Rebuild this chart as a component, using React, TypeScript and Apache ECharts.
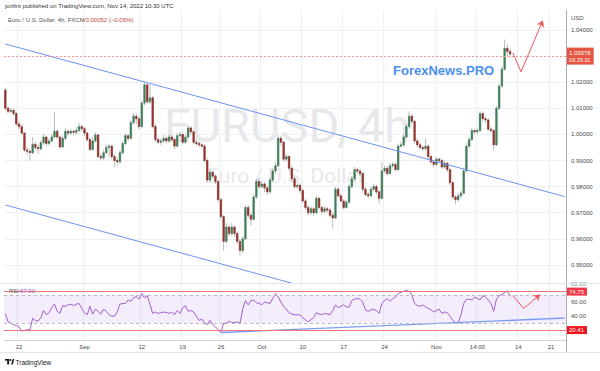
import React, { useEffect, useRef } from 'react';
import * as echarts from 'echarts';

// ---------- data (EUR/USD, 8h buckets) ----------
const opens = [1.0170, 1.0100, 1.0088, 1.0092, 1.0080, 1.0040, 1.0030, 1.0005, 0.9940, 0.9935,
  0.9930, 0.9962, 0.9950, 0.9945, 0.9968, 0.9990, 0.9965, 0.9975, 0.9990, 1.0012,
  0.9990, 0.9952, 0.9985, 1.0012, 1.0005, 1.0012, 1.0008, 1.0015, 1.0030, 1.0022,
  1.0005, 0.9980, 0.9942, 0.9975, 0.9998, 0.9915, 0.9910, 0.9930, 0.9950, 0.9955,
  0.9915, 0.9900, 0.9895, 0.9930, 0.9965, 0.9995, 0.9985, 1.0045, 1.0070, 1.0060,
  1.0030, 1.0120, 1.0190, 1.0125, 1.0140, 1.0030, 0.9980, 0.9970, 0.9975, 0.9985,
  0.9975, 0.9990, 0.9980, 0.9955, 0.9995, 1.0000, 0.9970, 0.9990, 1.0025, 1.0010,
  0.9970, 0.9965, 0.9960, 0.9955, 0.9900, 0.9825, 0.9855, 0.9840, 0.9820, 0.9750,
  0.9685, 0.9590, 0.9645, 0.9620, 0.9645, 0.9620, 0.9590, 0.9555, 0.9600, 0.9720,
  0.9690, 0.9675, 0.9760, 0.9820, 0.9800, 0.9810, 0.9795, 0.9780, 0.9825, 0.9860,
  0.9880, 0.9985, 0.9970, 0.9905, 0.9915, 0.9870, 0.9830, 0.9800, 0.9805, 0.9785,
  0.9745, 0.9720, 0.9700, 0.9715, 0.9700, 0.9755, 0.9720, 0.9705, 0.9715, 0.9710,
  0.9690, 0.9680, 0.9790, 0.9765, 0.9745, 0.9720, 0.9740, 0.9800, 0.9830, 0.9865,
  0.9860, 0.9850, 0.9790, 0.9770, 0.9765, 0.9790, 0.9800, 0.9780, 0.9755, 0.9860,
  0.9870, 0.9850, 0.9880, 0.9885, 0.9865, 0.9955, 0.9960, 0.9990, 1.0030, 1.0070,
  1.0050, 0.9975, 0.9960, 0.9950, 0.9945, 0.9955, 0.9915, 0.9895, 0.9885, 0.9905,
  0.9900, 0.9875, 0.9890, 0.9865, 0.9815, 0.9760, 0.9750, 0.9765, 0.9775, 0.9860,
  0.9955, 0.9980, 1.0015, 1.0010, 1.0015, 1.0080, 1.0060, 1.0055, 1.0020, 1.0015,
  0.9960, 1.0100, 1.0185, 1.0250, 1.0330, 1.0318];

const closes = [1.0100, 1.0088, 1.0092, 1.0080, 1.0040, 1.0030, 1.0005, 0.9940, 0.9935, 0.9930,
  0.9962, 0.9950, 0.9945, 0.9968, 0.9990, 0.9965, 0.9975, 0.9990, 1.0012, 0.9990,
  0.9952, 0.9985, 1.0012, 1.0005, 1.0012, 1.0008, 1.0015, 1.0030, 1.0022, 1.0005,
  0.9980, 0.9942, 0.9975, 0.9998, 0.9915, 0.9910, 0.9930, 0.9950, 0.9955, 0.9915,
  0.9900, 0.9895, 0.9930, 0.9965, 0.9995, 0.9985, 1.0045, 1.0070, 1.0060, 1.0030,
  1.0120, 1.0190, 1.0125, 1.0140, 1.0030, 0.9980, 0.9970, 0.9975, 0.9985, 0.9975,
  0.9990, 0.9980, 0.9955, 0.9995, 1.0000, 0.9970, 0.9990, 1.0025, 1.0010, 0.9970,
  0.9965, 0.9960, 0.9955, 0.9900, 0.9825, 0.9855, 0.9840, 0.9820, 0.9750, 0.9685,
  0.9590, 0.9645, 0.9620, 0.9645, 0.9620, 0.9590, 0.9555, 0.9600, 0.9720, 0.9690,
  0.9675, 0.9760, 0.9820, 0.9800, 0.9810, 0.9795, 0.9780, 0.9825, 0.9860, 0.9880,
  0.9985, 0.9970, 0.9905, 0.9915, 0.9870, 0.9830, 0.9800, 0.9805, 0.9785, 0.9745,
  0.9720, 0.9700, 0.9715, 0.9700, 0.9755, 0.9720, 0.9705, 0.9715, 0.9710, 0.9690,
  0.9680, 0.9790, 0.9765, 0.9745, 0.9720, 0.9740, 0.9800, 0.9830, 0.9865, 0.9860,
  0.9850, 0.9790, 0.9770, 0.9765, 0.9790, 0.9800, 0.9780, 0.9755, 0.9860, 0.9870,
  0.9850, 0.9880, 0.9885, 0.9865, 0.9955, 0.9960, 0.9990, 1.0030, 1.0070, 1.0050,
  0.9975, 0.9960, 0.9950, 0.9945, 0.9955, 0.9915, 0.9895, 0.9885, 0.9905, 0.9900,
  0.9875, 0.9890, 0.9865, 0.9815, 0.9760, 0.9750, 0.9765, 0.9775, 0.9860, 0.9955,
  0.9980, 1.0015, 1.0010, 1.0015, 1.0080, 1.0060, 1.0055, 1.0020, 1.0015, 0.9960,
  1.0100, 1.0185, 1.0250, 1.0330, 1.0318, 1.0308];

const lows = [1.0092, 1.0080, 1.0082, 1.0072, 1.0032, 1.0020, 0.9998, 0.9932, 0.9922, 0.9900,
  0.9925, 0.9940, 0.9925, 0.9940, 0.9960, 0.9955, 0.9958, 0.9968, 0.9985, 0.9982,
  0.9945, 0.9948, 0.9978, 0.9995, 0.9998, 0.9996, 1.0000, 1.0008, 1.0012, 0.9995,
  0.9972, 0.9935, 0.9938, 0.9968, 0.9908, 0.9900, 0.9902, 0.9925, 0.9915, 0.9905,
  0.9875, 0.9880, 0.9888, 0.9922, 0.9958, 0.9975, 0.9980, 1.0038, 1.0040, 1.0018,
  1.0025, 1.0112, 1.0115, 1.0118, 1.0022, 0.9970, 0.9962, 0.9960, 0.9968, 0.9965,
  0.9968, 0.9972, 0.9945, 0.9950, 0.9988, 0.9962, 0.9962, 0.9985, 1.0000, 0.9962,
  0.9955, 0.9950, 0.9945, 0.9892, 0.9815, 0.9818, 0.9830, 0.9810, 0.9742, 0.9675,
  0.9555, 0.9582, 0.9610, 0.9612, 0.9608, 0.9580, 0.9536, 0.9545, 0.9595, 0.9680,
  0.9650, 0.9668, 0.9752, 0.9790, 0.9792, 0.9780, 0.9768, 0.9772, 0.9818, 0.9850,
  0.9875, 0.9958, 0.9895, 0.9895, 0.9860, 0.9820, 0.9790, 0.9792, 0.9775, 0.9738,
  0.9710, 0.9690, 0.9692, 0.9688, 0.9695, 0.9712, 0.9695, 0.9698, 0.9700, 0.9682,
  0.9640, 0.9675, 0.9758, 0.9738, 0.9712, 0.9715, 0.9735, 0.9792, 0.9822, 0.9850,
  0.9840, 0.9782, 0.9762, 0.9755, 0.9758, 0.9782, 0.9770, 0.9735, 0.9750, 0.9850,
  0.9842, 0.9845, 0.9870, 0.9858, 0.9860, 0.9948, 0.9952, 0.9985, 1.0022, 1.0040,
  0.9965, 0.9950, 0.9940, 0.9935, 0.9938, 0.9905, 0.9885, 0.9875, 0.9878, 0.9890,
  0.9868, 0.9868, 0.9855, 0.9805, 0.9750, 0.9732, 0.9742, 0.9755, 0.9770, 0.9855,
  0.9948, 0.9975, 1.0000, 1.0002, 1.0010, 1.0050, 1.0045, 1.0012, 1.0005, 0.9940,
  0.9955, 1.0095, 1.0178, 1.0245, 1.0300, 1.0295];

const highs = [1.0178, 1.0108, 1.0102, 1.0098, 1.0086, 1.0052, 1.0038, 1.0010, 0.9952, 0.9945,
  0.9990, 0.9972, 0.9960, 0.9978, 1.0002, 0.9995, 0.9985, 1.0000, 1.0085, 1.0020,
  0.9995, 0.9995, 1.0025, 1.0020, 1.0022, 1.0018, 1.0028, 1.0045, 1.0038, 1.0030,
  1.0012, 0.9988, 0.9990, 1.0008, 1.0002, 0.9925, 0.9940, 0.9962, 0.9965, 0.9960,
  0.9925, 0.9910, 0.9940, 0.9975, 1.0005, 1.0002, 1.0055, 1.0082, 1.0080, 1.0068,
  1.0130, 1.0198, 1.0195, 1.0190, 1.0148, 1.0040, 0.9990, 0.9985, 0.9998, 0.9992,
  1.0002, 0.9998, 0.9985, 1.0005, 1.0010, 1.0008, 1.0000, 1.0035, 1.0032, 1.0015,
  0.9980, 0.9975, 0.9968, 0.9962, 0.9908, 0.9865, 0.9862, 0.9848, 0.9825, 0.9758,
  0.9690, 0.9660, 0.9655, 0.9660, 0.9652, 0.9628, 0.9598, 0.9610, 0.9728, 0.9730,
  0.9700, 0.9770, 0.9830, 0.9832, 0.9822, 0.9818, 0.9802, 0.9835, 0.9872, 0.9892,
  0.9998, 0.9995, 0.9975, 0.9925, 0.9920, 0.9878, 0.9838, 0.9815, 0.9812, 0.9792,
  0.9752, 0.9728, 0.9725, 0.9722, 0.9765, 0.9762, 0.9728, 0.9725, 0.9722, 0.9718,
  0.9700, 0.9800, 0.9798, 0.9772, 0.9752, 0.9750, 0.9810, 0.9840, 0.9875, 0.9872,
  0.9868, 0.9855, 0.9798, 0.9778, 0.9800, 0.9810, 0.9808, 0.9785, 0.9895, 0.9880,
  0.9878, 0.9890, 0.9895, 0.9892, 0.9965, 0.9972, 1.0000, 1.0040, 1.0088, 1.0080,
  1.0055, 0.9985, 0.9970, 0.9958, 0.9985, 0.9962, 0.9922, 0.9902, 0.9915, 0.9912,
  0.9908, 0.9900, 0.9895, 0.9870, 0.9820, 0.9768, 0.9775, 0.9785, 0.9870, 0.9965,
  0.9990, 1.0025, 1.0022, 1.0025, 1.0090, 1.0085, 1.0068, 1.0062, 1.0028, 1.0020,
  1.0110, 1.0195, 1.0262, 1.0363, 1.0345, 1.0328];

const rsiValues = [44, 32, 30, 28, 27, 25, 19, 20, 21, 20.5,
  37, 34, 33, 38, 48, 42, 45, 52, 57, 47,
  44, 55, 54, 56, 57, 55, 57, 58, 51, 45,
  42, 54, 43, 50, 47, 43, 50, 47, 42, 40,
  40, 46, 57, 58, 58, 63, 61, 66, 68, 64,
  72, 66, 69, 57, 44, 46, 44, 45, 46, 45,
  44, 46, 42, 48, 44, 52, 55, 47, 48, 46,
  40, 34, 36, 31, 28, 34, 28, 25, 21, 17,
  30, 30, 33, 31, 31, 32, 30, 50, 62, 56,
  62, 63, 59, 58, 56, 60, 59, 58, 65, 72,
  67, 60, 54, 50, 45, 43, 42, 42, 42, 38,
  35, 32, 35, 38, 45, 43, 42, 44, 43, 42,
  48, 56, 52, 54, 56, 53, 53, 62, 64, 65,
  64, 60, 49, 47, 49, 50, 48, 44, 58, 62,
  65, 61, 65, 67, 72, 74, 75, 77, 75, 70,
  58, 55, 54, 56, 53, 51, 49, 46, 48, 50,
  44, 46, 45, 40, 34, 31, 30, 42, 58, 64,
  64, 63, 67, 65, 63, 69, 67, 63, 58, 47,
  64, 69, 71, 73, 76, 67.9];

const totalSlots = 206;
const dateTickIndex = [5, 29, 50, 65, 79, 94, 109, 124, 139, 158, 173, 188, 200];
const dateTickText = ['22', 'Sep', '12', '19', '26', 'Oct', '10', '17', '24', 'Nov', '14:00', '14', '21'];
const priceTicks = [0.95, 0.96, 0.97, 0.98, 0.99, 1.0, 1.01, 1.02, 1.03, 1.04];
const priceLabelTicks = [0.95, 0.96, 0.97, 0.98, 0.99, 1.0, 1.01, 1.02, 1.04];
const rsiTicks = [40, 60, 80];
const priceMin = 0.94307;
const priceMax = 1.04766;
const rsiMin = 6.4;
const rsiMax = 85.5;
const lastPrice = 1.03078;
const lastPriceTimer = '03:29:31';
const rsiLast = 67.9;
const rsiUpperLevel = 74.75;
const rsiLowerLevel = 20.41;
const upperChannel = [[0, 1.03464], [205, 0.97617]];
const lowerChannel = [[0, 0.97295], [105, 0.943]];
const rsiSupport = [[79, 16.9], [205, 37.4]];
const priceArrow = [[186, 1.0312], [189, 1.024], [197, 1.0436]];
const rsiArrow = [[186, 69.2], [190, 50.9], [196, 70.6]];

const FONT = '"Liberation Sans", Arial, sans-serif';

export default function App() {
  const ref = useRef<HTMLDivElement>(null);

  useEffect(() => {
    if (!ref.current) return;
    const chart = echarts.init(ref.current, undefined, { renderer: 'svg' });

    const slots = Array.from({ length: totalSlots }, (_, i) => String(i));
    const labelMap = new Map<number, string>();
    dateTickIndex.forEach((idx, k) => labelMap.set(idx, dateTickText[k]));
    const tickSet = new Set(dateTickIndex);
    const candleData = closes.map((c, i) => [i, opens[i], c, lows[i], highs[i]]);

    const gridLine = { color: '#eef0f4', width: 1 };
    const redBox = (bg: string) => ({
      show: true,
      position: 'end',
      distance: 0,
      backgroundColor: bg,
      color: '#ffffff',
      fontSize: 6,
      fontFamily: FONT,
      padding: [1, 3, 1, 3],
    });

    const arrowSegments = (pts: number[][], color: string) => [
      [
        { coord: pts[0], symbol: 'none', lineStyle: { color, width: 1, type: 'solid' } },
        { coord: pts[1], symbol: 'none' },
      ],
      [
        { coord: pts[1], symbol: 'none', lineStyle: { color, width: 1, type: 'solid' } },
        { coord: pts[2], symbol: 'arrow', symbolSize: 6 },
      ],
    ];

    const option: any = {
      animation: false,
      backgroundColor: '#ffffff',
      textStyle: { fontFamily: FONT },
      grid: [
        { left: 4, top: 10, width: 562, height: 273 },
        { left: 4, top: 284, width: 562, height: 56 },
      ],
      xAxis: [
        {
          type: 'category', gridIndex: 0, data: slots, boundaryGap: true,
          axisLine: { show: false }, axisTick: { show: false }, axisLabel: { show: false },
          splitLine: { show: true, interval: (i: number) => tickSet.has(i), lineStyle: gridLine },
        },
        {
          type: 'category', gridIndex: 1, data: slots, boundaryGap: true,
          axisLine: { show: true, lineStyle: { color: '#d0d3da', width: 1 } },
          axisTick: { show: false },
          axisLabel: {
            interval: 0, margin: 4, fontSize: 6, color: '#4a4a4a', fontFamily: FONT,
            formatter: (_v: string, i: number) => labelMap.get(i) ?? '',
          },
          splitLine: { show: true, interval: (i: number) => tickSet.has(i), lineStyle: gridLine },
        },
      ],
      yAxis: [
        {
          type: 'value', gridIndex: 0, position: 'right', min: priceMin, max: priceMax,
          axisLine: { show: false },
          axisTick: { show: false, customValues: priceTicks },
          axisLabel: {
            customValues: priceLabelTicks, margin: 5, fontSize: 6, color: '#4a4a4a', fontFamily: FONT,
            formatter: (v: number) => v.toFixed(5),
          },
          splitLine: { show: true, lineStyle: gridLine },
        },
        {
          type: 'value', gridIndex: 1, position: 'right', min: rsiMin, max: rsiMax,
          axisLine: { show: false },
          axisTick: { show: false, customValues: rsiTicks },
          axisLabel: {
            customValues: rsiTicks, margin: 5, fontSize: 6, color: '#4a4a4a', fontFamily: FONT,
            formatter: (v: number) => (v === 80 ? `{top|${v.toFixed(2)}}` : v.toFixed(2)),
            rich: { top: { fontSize: 6, color: '#8a8d94', fontFamily: FONT, padding: [0, 0, 8, 0] } },
          },
          splitLine: { show: false },
        },
      ],
      series: [
        {
          type: 'custom', name: 'EURUSD', xAxisIndex: 0, yAxisIndex: 0, z: 3, clip: true,
          data: candleData,
          encode: { x: 0, y: [1, 2, 3, 4] },
          renderItem: (_p: any, api: any) => {
            const i = api.value(0);
            const o = api.value(1);
            const c = api.value(2);
            const l = api.value(3);
            const h = api.value(4);
            const pO = api.coord([i, o]);
            const pC = api.coord([i, c]);
            const pL = api.coord([i, l]);
            const pH = api.coord([i, h]);
            const bw = api.size([1, 0])[0] * 0.58;
            const up = c >= o;
            const top = Math.min(pO[1], pC[1]);
            const hh = Math.max(Math.abs(pO[1] - pC[1]), 0.8);
            return {
              type: 'group',
              children: [
                { type: 'line', shape: { x1: pH[0], y1: pH[1], x2: pL[0], y2: pL[1] }, style: { stroke: '#a8a8a8', lineWidth: 0.8 } },
                {
                  type: 'rect', shape: { x: pO[0] - bw / 2, y: top, width: bw, height: hh },
                  style: { fill: up ? '#3f8d60' : '#b5372d', stroke: up ? '#2c5e41' : '#5e1b16', lineWidth: 0.5 },
                },
              ],
            };
          },
        },
        {
          type: 'line', name: 'channel top', xAxisIndex: 0, yAxisIndex: 0, z: 4,
          data: upperChannel, symbol: 'none', silent: true,
          lineStyle: { color: '#6b93f0', width: 1 },
          markLine: {
            silent: true, symbol: ['none', 'none'], animation: false,
            data: [
              {
                yAxis: lastPrice,
                lineStyle: { color: '#f29a93', width: 1, type: [2, 2] },
                label: {
                  ...redBox('#e5553f'),
                  formatter: `{a|${lastPrice.toFixed(5)}}\n{b|${lastPriceTimer}}`,
                  rich: {
                    a: { fontSize: 6, color: '#ffffff', fontFamily: FONT, lineHeight: 8 },
                    b: { fontSize: 5.5, color: '#ffffff', fontFamily: FONT, lineHeight: 7 },
                  },
                },
              },
              ...arrowSegments(priceArrow, '#f2545b'),
            ],
          },
        },
        {
          type: 'line', name: 'channel bottom', xAxisIndex: 0, yAxisIndex: 0, z: 4,
          data: lowerChannel, symbol: 'none', silent: true,
          lineStyle: { color: '#6b93f0', width: 1 },
        },
        {
          type: 'line', name: 'RSI', xAxisIndex: 1, yAxisIndex: 1, z: 3,
          data: rsiValues, symbol: 'none', silent: true,
          lineStyle: { color: '#a35bd0', width: 1 },
          markArea: {
            silent: true,
            itemStyle: { color: 'rgba(150, 85, 225, 0.10)' },
            data: [[{ yAxis: 70 }, { yAxis: 30 }]],
          },
          markLine: {
            silent: true, symbol: ['none', 'none'], animation: false,
            data: [
              { yAxis: 70, lineStyle: { color: '#b8bac2', width: 1, type: [3, 3] }, label: { show: false } },
              { yAxis: 30, lineStyle: { color: '#b8bac2', width: 1, type: [3, 3] }, label: { show: false } },
              { yAxis: rsiUpperLevel, lineStyle: { color: '#f2727a', width: 1.2, type: 'solid' }, label: { ...redBox('#f23645'), formatter: rsiUpperLevel.toFixed(2) } },
              { yAxis: rsiLowerLevel, lineStyle: { color: '#f2727a', width: 1.2, type: 'solid' }, label: { ...redBox('#f0141c'), formatter: rsiLowerLevel.toFixed(2) } },
            ],
          },
        },
        {
          type: 'line', name: 'RSI support', xAxisIndex: 1, yAxisIndex: 1, z: 4,
          data: rsiSupport, symbol: 'none', silent: true,
          lineStyle: { color: '#7a9ff2', width: 1.4 },
          markLine: {
            silent: true, symbol: ['none', 'none'], animation: false,
            data: arrowSegments(rsiArrow, '#f2545b'),
          },
        },
      ],
      graphic: [
        { type: 'text', z: 1, silent: true, style: { text: 'EURUSD, 4h', x: 287, y: 125, align: 'center', verticalAlign: 'middle', fontSize: 47, fontFamily: 'Roboto', fill: '#e7e8eb' } },
        { type: 'text', z: 1, silent: true, style: { text: 'Euro / U.S. Dollar', x: 286, y: 176, align: 'center', verticalAlign: 'middle', fontSize: 21, fontFamily: 'Roboto', fill: '#e7e8eb' } },
        { type: 'text', z: 10, silent: true, style: { text: 'ForexNews.PRO', x: 393, y: 70, verticalAlign: 'middle', fontSize: 13, fontWeight: 'bold', fontFamily: FONT, fill: '#4b8ff0' } },
        { type: 'text', z: 10, silent: true, style: { text: 'jonfint published on TradingView.com, Nov 14, 2022 10:30 UTC', x: 5, y: 6, verticalAlign: 'middle', fontSize: 6, fontFamily: FONT, fill: '#333333' } },
        { type: 'text', z: 10, silent: true, style: { text: 'Euro / U.S. Dollar, 4h, FXCM', x: 8, y: 19.5, verticalAlign: 'middle', fontSize: 6, fontFamily: FONT, fill: '#555555' } },
        { type: 'text', z: 10, silent: true, style: { text: '\u22120.00052 (\u22120.05%)', x: 82, y: 19.5, verticalAlign: 'middle', fontSize: 6, fontFamily: FONT, fill: '#c8473c' } },
        { type: 'text', z: 10, silent: true, style: { text: 'USD', x: 571, y: 18, verticalAlign: 'middle', fontSize: 6, fontFamily: FONT, fill: '#555555' } },
        { type: 'text', z: 10, silent: true, style: { text: 'RSI', x: 9, y: 291, verticalAlign: 'middle', fontSize: 6, fontFamily: FONT, fill: '#555555' } },
        { type: 'text', z: 10, silent: true, style: { text: rsiLast.toFixed(2), x: 20, y: 291, verticalAlign: 'middle', fontSize: 6, fontFamily: FONT, fill: '#9a55c8' } },
        { type: 'line', z: 10, silent: true, shape: { x1: 566.5, y1: 10, x2: 566.5, y2: 352 }, style: { stroke: '#a9acb3', lineWidth: 1 } },
        { type: 'line', z: 10, silent: true, shape: { x1: 0, y1: 283.5, x2: 600, y2: 283.5 }, style: { stroke: '#e3e5ea', lineWidth: 1 } },
        { type: 'line', z: 10, silent: true, shape: { x1: 0, y1: 352.5, x2: 600, y2: 352.5 }, style: { stroke: '#e3e5ea', lineWidth: 1 } },
        // TradingView logo
        { type: 'rect', z: 10, silent: true, shape: { x: 5, y: 359, width: 4.2, height: 1.6 }, style: { fill: '#131722' } },
        { type: 'rect', z: 10, silent: true, shape: { x: 7.2, y: 359, width: 1.9, height: 5.4 }, style: { fill: '#131722' } },
        { type: 'circle', z: 10, silent: true, shape: { cx: 10.4, cy: 360, r: 0.95 }, style: { fill: '#131722' } },
        { type: 'polygon', z: 10, silent: true, shape: { points: [[11.2, 364.4], [12.7, 359], [14.3, 359], [12.8, 364.4]] }, style: { fill: '#131722' } },
        { type: 'text', z: 10, silent: true, style: { text: 'TradingView', x: 15.5, y: 362, verticalAlign: 'middle', fontSize: 6.5, fontFamily: FONT, fill: '#131722' } },
      ],
    };

    chart.setOption(option);
    return () => chart.dispose();
  }, []);

  return (
    <div
      ref={ref}
      style={{ position: 'fixed', left: 0, top: 0, width: 600, height: 371, background: '#ffffff' }}
    />
  );
}
